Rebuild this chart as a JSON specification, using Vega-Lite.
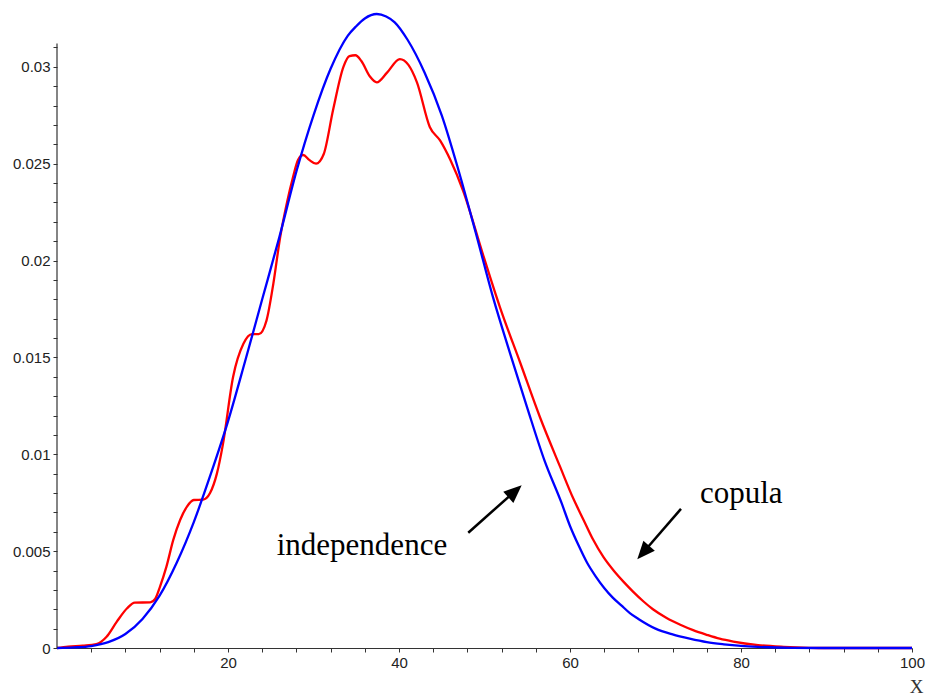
{
  "$schema": "https://vega.github.io/schema/vega-lite/v6.json",
  "autosize": "none",
  "width": 855,
  "height": 647,
  "padding": {"left": 57, "top": 1, "right": 18, "bottom": 50},
  "background": "white",
  "config": {"view": {"stroke": null}, "axis": {"labelOverlap": false, "labelFlush": false, "labelBound": false}},
  "datasets": {
    "curves": [
      {"x": 0, "y": 0, "series": "copula"},
      {"x": 1.3, "y": 0.00007, "series": "copula"},
      {"x": 3, "y": 0.00012, "series": "copula"},
      {"x": 4.6, "y": 0.0002, "series": "copula"},
      {"x": 5.8, "y": 0.00058, "series": "copula"},
      {"x": 7, "y": 0.00136, "series": "copula"},
      {"x": 8.2, "y": 0.00205, "series": "copula"},
      {"x": 9.1, "y": 0.00234, "series": "copula"},
      {"x": 10.9, "y": 0.00236, "series": "copula"},
      {"x": 11.5, "y": 0.00255, "series": "copula"},
      {"x": 12.05, "y": 0.00317, "series": "copula"},
      {"x": 12.8, "y": 0.0042, "series": "copula"},
      {"x": 13.6, "y": 0.00558, "series": "copula"},
      {"x": 14.4, "y": 0.00661, "series": "copula"},
      {"x": 15.2, "y": 0.0073, "series": "copula"},
      {"x": 16, "y": 0.00764, "series": "copula"},
      {"x": 17.1, "y": 0.00766, "series": "copula"},
      {"x": 17.9, "y": 0.008, "series": "copula"},
      {"x": 18.7, "y": 0.009, "series": "copula"},
      {"x": 19.4, "y": 0.0105, "series": "copula"},
      {"x": 20.6, "y": 0.014, "series": "copula"},
      {"x": 21.8, "y": 0.0157, "series": "copula"},
      {"x": 22.8, "y": 0.0162, "series": "copula"},
      {"x": 23.6, "y": 0.0162, "series": "copula"},
      {"x": 24.5, "y": 0.0169, "series": "copula"},
      {"x": 25.3, "y": 0.0188, "series": "copula"},
      {"x": 26.1, "y": 0.0212, "series": "copula"},
      {"x": 26.9, "y": 0.023, "series": "copula"},
      {"x": 27.6, "y": 0.0243, "series": "copula"},
      {"x": 28.2, "y": 0.0252, "series": "copula"},
      {"x": 28.8, "y": 0.02545, "series": "copula"},
      {"x": 29.5, "y": 0.0252, "series": "copula"},
      {"x": 30.3, "y": 0.025, "series": "copula"},
      {"x": 31.2, "y": 0.0255, "series": "copula"},
      {"x": 32.3, "y": 0.0278, "series": "copula"},
      {"x": 33.5, "y": 0.03, "series": "copula"},
      {"x": 34.2, "y": 0.03055, "series": "copula"},
      {"x": 34.9, "y": 0.0306, "series": "copula"},
      {"x": 35.6, "y": 0.0303, "series": "copula"},
      {"x": 36.6, "y": 0.0295, "series": "copula"},
      {"x": 37.4, "y": 0.0292, "series": "copula"},
      {"x": 38.6, "y": 0.0297, "series": "copula"},
      {"x": 40.1, "y": 0.0304, "series": "copula"},
      {"x": 41.1, "y": 0.0301, "series": "copula"},
      {"x": 42.1, "y": 0.0292, "series": "copula"},
      {"x": 43.6, "y": 0.0269, "series": "copula"},
      {"x": 44.8, "y": 0.0262, "series": "copula"},
      {"x": 46, "y": 0.0252, "series": "copula"},
      {"x": 47.5, "y": 0.0236, "series": "copula"},
      {"x": 49.9, "y": 0.0202, "series": "copula"},
      {"x": 51.8, "y": 0.0176, "series": "copula"},
      {"x": 54.2, "y": 0.0147, "series": "copula"},
      {"x": 56.5, "y": 0.0119, "series": "copula"},
      {"x": 58.8, "y": 0.0094, "series": "copula"},
      {"x": 60.4, "y": 0.0077, "series": "copula"},
      {"x": 61.6, "y": 0.0066, "series": "copula"},
      {"x": 62.7, "y": 0.0056, "series": "copula"},
      {"x": 63.9, "y": 0.0047, "series": "copula"},
      {"x": 65.1, "y": 0.004, "series": "copula"},
      {"x": 66.3, "y": 0.0034, "series": "copula"},
      {"x": 67.4, "y": 0.0029, "series": "copula"},
      {"x": 68.6, "y": 0.0024, "series": "copula"},
      {"x": 69.7, "y": 0.002, "series": "copula"},
      {"x": 71.3, "y": 0.00155, "series": "copula"},
      {"x": 72.9, "y": 0.0012, "series": "copula"},
      {"x": 74.4, "y": 0.00092, "series": "copula"},
      {"x": 76, "y": 0.00068, "series": "copula"},
      {"x": 77.5, "y": 0.00048, "series": "copula"},
      {"x": 79.1, "y": 0.00033, "series": "copula"},
      {"x": 82, "y": 0.00015, "series": "copula"},
      {"x": 85, "y": 0.00006, "series": "copula"},
      {"x": 88, "y": 0.00001, "series": "copula"},
      {"x": 90, "y": 0, "series": "copula"},
      {"x": 100, "y": 0, "series": "copula"},
      {"x": 0, "y": 0, "series": "independence"},
      {"x": 2, "y": 0.00003, "series": "independence"},
      {"x": 4, "y": 0.0001, "series": "independence"},
      {"x": 6, "y": 0.0003, "series": "independence"},
      {"x": 8, "y": 0.00072, "series": "independence"},
      {"x": 10, "y": 0.0015, "series": "independence"},
      {"x": 12, "y": 0.0027, "series": "independence"},
      {"x": 14, "y": 0.0044, "series": "independence"},
      {"x": 16, "y": 0.0065, "series": "independence"},
      {"x": 18, "y": 0.009, "series": "independence"},
      {"x": 20, "y": 0.0117, "series": "independence"},
      {"x": 22, "y": 0.0148, "series": "independence"},
      {"x": 24, "y": 0.018, "series": "independence"},
      {"x": 26, "y": 0.0212, "series": "independence"},
      {"x": 28, "y": 0.0246, "series": "independence"},
      {"x": 30, "y": 0.0275, "series": "independence"},
      {"x": 32, "y": 0.0299, "series": "independence"},
      {"x": 34, "y": 0.0316, "series": "independence"},
      {"x": 35, "y": 0.0321, "series": "independence"},
      {"x": 36, "y": 0.0325, "series": "independence"},
      {"x": 37.4, "y": 0.03273, "series": "independence"},
      {"x": 38.5, "y": 0.0326, "series": "independence"},
      {"x": 39.5, "y": 0.0323, "series": "independence"},
      {"x": 41, "y": 0.0314, "series": "independence"},
      {"x": 43, "y": 0.0297, "series": "independence"},
      {"x": 45, "y": 0.0275, "series": "independence"},
      {"x": 47, "y": 0.0246, "series": "independence"},
      {"x": 49, "y": 0.0214, "series": "independence"},
      {"x": 51, "y": 0.0181, "series": "independence"},
      {"x": 53, "y": 0.0152, "series": "independence"},
      {"x": 55, "y": 0.0124, "series": "independence"},
      {"x": 57, "y": 0.0097, "series": "independence"},
      {"x": 59, "y": 0.0075, "series": "independence"},
      {"x": 60, "y": 0.0063, "series": "independence"},
      {"x": 61, "y": 0.0053, "series": "independence"},
      {"x": 62, "y": 0.0044, "series": "independence"},
      {"x": 63, "y": 0.0037, "series": "independence"},
      {"x": 64, "y": 0.0031, "series": "independence"},
      {"x": 65, "y": 0.0026, "series": "independence"},
      {"x": 66, "y": 0.0022, "series": "independence"},
      {"x": 67, "y": 0.0018, "series": "independence"},
      {"x": 68, "y": 0.0015, "series": "independence"},
      {"x": 70, "y": 0.001, "series": "independence"},
      {"x": 72, "y": 0.0007, "series": "independence"},
      {"x": 74, "y": 0.00048, "series": "independence"},
      {"x": 76, "y": 0.0003, "series": "independence"},
      {"x": 78, "y": 0.00019, "series": "independence"},
      {"x": 80, "y": 0.00011, "series": "independence"},
      {"x": 82, "y": 0.00006, "series": "independence"},
      {"x": 86, "y": 0.00001, "series": "independence"},
      {"x": 90, "y": 0, "series": "independence"},
      {"x": 100, "y": 0, "series": "independence"}
    ],
    "labels": [
      {"x": 25.7, "y": 0.0048, "text": "independence"},
      {"x": 75.2, "y": 0.0075, "text": "copula"}
    ],
    "arrows": [
      {"name": "independence", "x": 48.1, "y": 0.00595, "x2": 53.57, "y2": 0.0081, "tx": 54.35, "ty": 0.0084},
      {"name": "copula", "x": 72.98, "y": 0.00718, "x2": 68.56, "y2": 0.00493, "tx": 67.87, "ty": 0.00458}
    ],
    "yaxisline": [{"x": 0, "y": 0, "y2": 0.0312}]
  },
  "encoding": {
    "x": {
      "field": "x", "type": "quantitative",
      "scale": {"domain": [0, 100], "nice": false},
      "axis": {
        "values": [4, 8, 12, 16, 20, 24, 28, 32, 36, 40, 44, 48, 52, 56, 60, 64, 68, 72, 76, 80, 84, 88, 92, 96, 100],
        "labelExpr": "datum.value % 20 === 0 ? datum.label : ''",
        "labelOverlap": false,
        "grid": false,
        "domainColor": "#333333",
        "domainWidth": 1.2,
        "tickColor": "#333333",
        "tickSize": 4,
        "labelFont": "Liberation Sans",
        "labelFontSize": 15,
        "labelColor": "#222222",
        "labelPadding": 3,
        "title": "X",
        "titleFont": "Liberation Serif",
        "titleFontSize": 19,
        "titleFontWeight": "normal",
        "titleColor": "#333333",
        "titleX": 859,
        "titleY": 38,
        "titleBaseline": "middle",
        "titleAlign": "center"
      }
    },
    "y": {
      "field": "y", "type": "quantitative",
      "scale": {"domain": [0, 0.0334], "nice": false, "zero": false},
      "axis": {
        "values": [0, 0.001, 0.002, 0.003, 0.004, 0.005, 0.006, 0.007, 0.008, 0.009, 0.01, 0.011, 0.012, 0.013, 0.014, 0.015, 0.016, 0.017, 0.018, 0.019, 0.02, 0.021, 0.022, 0.023, 0.024, 0.025, 0.026, 0.027, 0.028, 0.029, 0.03, 0.031],
        "labelExpr": "abs(datum.value * 200 - round(datum.value * 200)) < 0.001 ? format(datum.value, '~g') : ''",
        "labelOverlap": false,
        "grid": false,
        "domain": false,
        "tickColor": "#333333",
        "tickSize": 4,
        "labelFont": "Liberation Sans",
        "labelFontSize": 15,
        "labelColor": "#222222",
        "labelPadding": 3,
        "title": null
      }
    }
  },
  "layer": [
    {
      "data": {"name": "curves"},
      "mark": {"type": "line", "interpolate": "monotone", "strokeWidth": 2.3},
      "encoding": {
        "color": {
          "field": "series", "type": "nominal",
          "scale": {"domain": ["copula", "independence"], "range": ["#ff0000", "#0000ff"]},
          "legend": null
        }
      }
    },
    {
      "data": {"name": "yaxisline"},
      "mark": {"type": "rule", "color": "#333333", "strokeWidth": 1.2},
      "encoding": {
        "y2": {"field": "y2"}
      }
    },
    {
      "data": {"name": "labels"},
      "mark": {"type": "text", "font": "Liberation Serif", "fontSize": 31, "align": "left", "baseline": "alphabetic", "color": "#000000"},
      "encoding": {
        "text": {"field": "text"}
      }
    },
    {
      "data": {"name": "arrows"},
      "mark": {"type": "rule", "color": "#000000", "strokeWidth": 2.5},
      "encoding": {
        "x2": {"field": "x2"},
        "y2": {"field": "y2"}
      }
    },
    {
      "data": {"name": "arrows"},
      "transform": [{"filter": "datum.name === 'independence'"}],
      "mark": {"type": "point", "shape": "M0,0L-0.42,1L0.42,1Z", "size": 1296, "filled": true, "color": "#000000", "opacity": 1, "angle": 48},
      "encoding": {
        "x": {"field": "tx", "type": "quantitative"},
        "y": {"field": "ty", "type": "quantitative"}
      }
    },
    {
      "data": {"name": "arrows"},
      "transform": [{"filter": "datum.name === 'copula'"}],
      "mark": {"type": "point", "shape": "M0,0L-0.42,1L0.42,1Z", "size": 1296, "filled": true, "color": "#000000", "opacity": 1, "angle": 221},
      "encoding": {
        "x": {"field": "tx", "type": "quantitative"},
        "y": {"field": "ty", "type": "quantitative"}
      }
    }
  ]
}
